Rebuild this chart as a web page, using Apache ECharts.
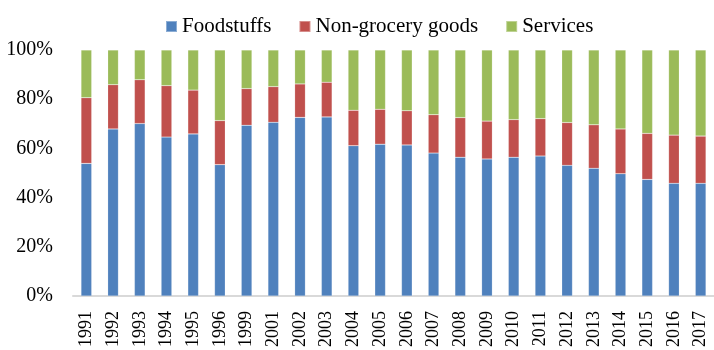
<!DOCTYPE html>
<html>
<head>
<meta charset="utf-8">
<script src="https://cdn.jsdelivr.net/npm/echarts@6/dist/echarts.min.js"></script>
<style>
  html, body { margin: 0; padding: 0; background: #fff; }
  #chart { width: 714px; height: 350px; }
</style>
</head>
<body>
<div id="chart"></div>
<script>
// years on the x axis
var years = ['1991', '1992', '1993', '1994', '1995', '1996', '1999', '2001', '2002', '2003',
  '2004', '2005', '2006', '2007', '2008', '2009', '2010', '2011', '2012', '2013',
  '2014', '2015', '2016', '2017'];

// shares in %
var foodstuffs = [53.9, 67.9, 70.1, 64.6, 65.9, 53.4, 69.4, 70.6, 72.6, 72.8,
  61.1, 61.7, 61.4, 58.1, 56.4, 55.7, 56.4, 56.9, 53.1, 51.9,
  49.7, 47.4, 45.8, 45.8];
var nonGrocery = [26.7, 18.0, 17.8, 20.9, 17.8, 17.9, 14.9, 14.5, 13.6, 14.1,
  14.4, 14.2, 13.9, 15.6, 16.1, 15.4, 15.3, 15.2, 17.4, 17.7,
  18.2, 18.7, 19.6, 19.2];
var services = [19.4, 14.1, 12.1, 14.5, 16.3, 28.7, 15.7, 14.9, 13.8, 13.1,
  24.5, 24.1, 24.7, 26.3, 27.5, 28.9, 28.3, 27.9, 29.5, 30.4,
  32.1, 33.9, 34.6, 35.0];

var yTicks = [0, 20, 40, 60, 80, 100];

var chart = echarts.init(document.getElementById('chart'));
var font = 'Liberation Serif, Times New Roman, serif';

function barSeries(name, data, color) {
  return {
    name: name,
    type: 'bar',
    stack: 'total',
    barWidth: '40%',
    data: data,
    itemStyle: {
      color: color,
      borderColor: 'rgba(255,255,255,0.35)',
      borderWidth: 0.5
    }
  };
}

var option = {
  animation: false,
  color: ['#4F81BD', '#C0504D', '#9BBB59'],
  legend: {
    top: 11,
    left: 160,
    itemWidth: 11,
    itemHeight: 11,
    itemGap: 27,
    icon: 'rect',
    textStyle: { fontFamily: font, fontSize: 21, color: '#000' },
    data: ['Foodstuffs', 'Non-grocery goods', 'Services']
  },
  grid: {
    left: 73,
    right: 0,
    top: 50,
    bottom: 54
  },
  xAxis: {
    type: 'category',
    data: years,
    axisLine: { lineStyle: { color: '#d9d9d9', width: 2 } },
    axisTick: { show: false },
    axisLabel: {
      rotate: 90,
      margin: 15,
      interval: 0,
      color: '#000',
      fontFamily: font,
      fontSize: 18
    }
  },
  yAxis: {
    type: 'value',
    min: yTicks[0],
    max: yTicks[yTicks.length - 1],
    interval: 20,
    splitLine: { show: false },
    axisLine: { show: false },
    axisTick: { show: false },
    axisLabel: {
      margin: 20,
      color: '#000',
      fontFamily: font,
      fontSize: 20,
      formatter: '{value}%'
    }
  },
  series: [
    barSeries('Foodstuffs', foodstuffs, '#4F81BD'),
    barSeries('Non-grocery goods', nonGrocery, '#C0504D'),
    barSeries('Services', services, '#9BBB59')
  ]
};

chart.setOption(option);
</script>
</body>
</html>
